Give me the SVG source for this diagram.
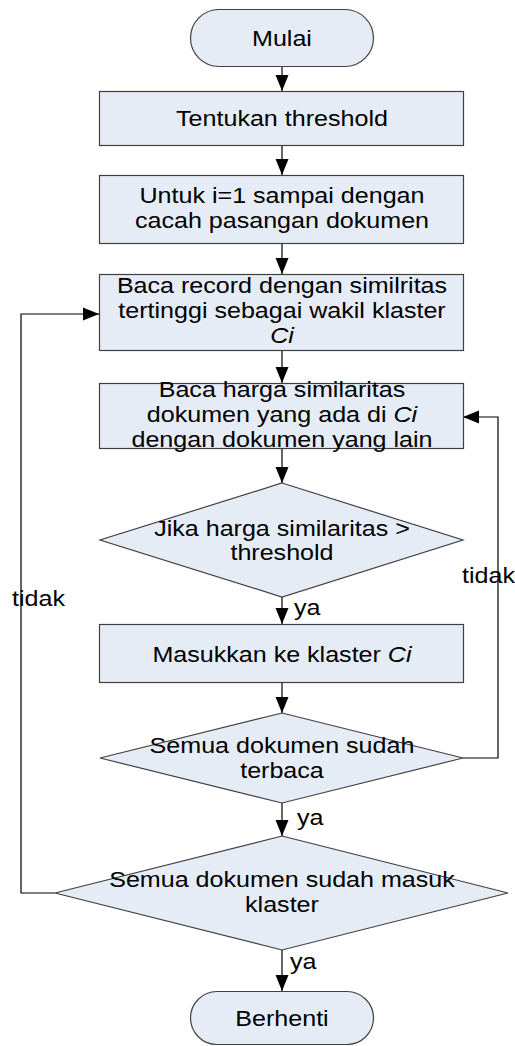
<svg xmlns="http://www.w3.org/2000/svg" width="515" height="1046" viewBox="0 0 515 1046">
<style>
.shape{fill:#E6ECF6;stroke:#404040;stroke-width:1.2}
.t{font-family:"Liberation Sans",Arial,sans-serif;font-size:22px;fill:#000;text-anchor:middle}
.lbl{font-family:"Liberation Sans",Arial,sans-serif;font-size:22px;fill:#000}
.c{fill:none;stroke:#000;stroke-width:1.2}
</style>
<defs>
<marker id="ah" markerUnits="userSpaceOnUse" markerWidth="17" markerHeight="14" refX="16" refY="7" orient="auto">
<path d="M0,0.5 L16,7 L0,13.5 z" fill="#000"/>
</marker>
</defs>
<rect width="515" height="1046" fill="#fff"/>
<g id="connectors">
<line class="c" x1="282" y1="67" x2="282" y2="91" marker-end="url(#ah)"/>
<line class="c" x1="282" y1="146" x2="282" y2="175" marker-end="url(#ah)"/>
<line class="c" x1="282" y1="244" x2="282" y2="274" marker-end="url(#ah)"/>
<line class="c" x1="282" y1="351" x2="282" y2="383" marker-end="url(#ah)"/>
<line class="c" x1="282" y1="449" x2="282" y2="483" marker-end="url(#ah)"/>
<line class="c" x1="282" y1="597" x2="282" y2="624" marker-end="url(#ah)"/>
<line class="c" x1="282" y1="683" x2="282" y2="713" marker-end="url(#ah)"/>
<line class="c" x1="282" y1="803" x2="282" y2="836" marker-end="url(#ah)"/>
<line class="c" x1="282" y1="950" x2="282" y2="991" marker-end="url(#ah)"/>
<polyline class="c" points="463,758 498,758 498,417 463,417" marker-end="url(#ah)"/>
<polyline class="c" points="55,893 21,893 21,314 99,314" marker-end="url(#ah)"/>
<g transform="matrix(1.14 0 0 1 0 0)">
<text class="lbl" x="257.9" y="615">ya</text>
<text class="lbl" x="260.5" y="825">ya</text>
<text class="lbl" x="254.4" y="969">ya</text>
<text class="lbl" x="10.5" y="606">tidak</text>
<text class="lbl" x="405.3" y="583">tidak</text>
</g>
</g>
<g id="mulai">
<rect class="shape" x="190.5" y="9.5" width="183" height="57" rx="28.5"/>
<text class="t" transform="matrix(1.14 0 0 1 -39.48 0)" x="282" y="46">Mulai</text>
</g>
<g id="threshold">
<rect class="shape" x="99.5" y="91.5" width="364" height="54"/>
<text class="t" transform="matrix(1.14 0 0 1 -39.48 0)" x="282" y="126">Tentukan threshold</text>
</g>
<g id="loop">
<rect class="shape" x="99.5" y="175.5" width="364" height="68"/>
<g class="t" transform="matrix(1.14 0 0 1 -39.48 0)">
<text class="t" x="282" y="203">Untuk i=1 sampai dengan</text>
<text class="t" x="282" y="228">cacah pasangan dokumen</text>
</g>
</g>
<g id="bacaRecord">
<rect class="shape" x="99.5" y="274.5" width="364" height="76"/>
<g transform="matrix(1.14 0 0 1 -39.48 0)">
<text class="t" x="282" y="293">Baca record dengan similritas</text>
<text class="t" x="282" y="318">tertinggi sebagai wakil klaster</text>
<text class="t" x="282" y="343" font-style="italic">Ci</text>
</g>
</g>
<g id="bacaHarga">
<rect class="shape" x="99.5" y="383.5" width="364" height="65"/>
<g transform="matrix(1.14 0 0 1 -39.48 0)">
<text class="t" x="282" y="397">Baca harga similaritas</text>
<text class="t" x="282" y="422">dokumen yang ada di <tspan font-style="italic">Ci</tspan></text>
<text class="t" x="282" y="447">dengan dokumen yang lain</text>
</g>
</g>
<g id="cekThreshold">
<polygon class="shape" points="282,483 463,540 282,597 100,540"/>
<g transform="matrix(1.14 0 0 1 -39.48 0)">
<text class="t" x="282" y="536">Jika harga similaritas &gt;</text>
<text class="t" x="282" y="560">threshold</text>
</g>
</g>
<g id="masukkan">
<rect class="shape" x="99.5" y="624.5" width="364" height="58"/>
<text class="t" transform="matrix(1.14 0 0 1 -39.48 0)" x="282" y="662">Masukkan ke klaster <tspan font-style="italic">Ci</tspan></text>
</g>
<g id="cekTerbaca">
<polygon class="shape" points="282,713 463,758 282,803 100,758"/>
<g transform="matrix(1.14 0 0 1 -39.48 0)">
<text class="t" x="282" y="753">Semua dokumen sudah</text>
<text class="t" x="282" y="778">terbaca</text>
</g>
</g>
<g id="cekKlaster">
<polygon class="shape" points="282,836 508,893 282,950 55,893"/>
<g transform="matrix(1.14 0 0 1 -39.48 0)">
<text class="t" x="282" y="887">Semua dokumen sudah masuk</text>
<text class="t" x="282" y="912">klaster</text>
</g>
</g>
<g id="berhenti">
<rect class="shape" x="190.5" y="991.5" width="183" height="53" rx="26.5"/>
<text class="t" transform="matrix(1.14 0 0 1 -39.48 0)" x="282" y="1026">Berhenti</text>
</g>
</svg>
